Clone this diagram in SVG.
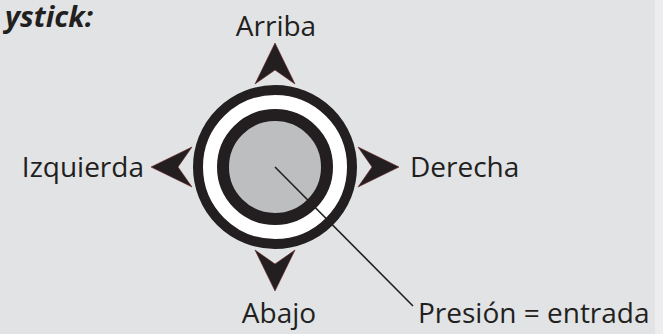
<svg xmlns="http://www.w3.org/2000/svg" width="663" height="334" viewBox="0 0 663 334">
  <style>
    .lbl { font-family: "Open Sans", "Noto Sans", "Liberation Sans", sans-serif; font-size: 28px; fill: #231f20; }
    .title { font-family: "Open Sans", "Noto Sans", "Liberation Sans", sans-serif; font-size: 29px; font-weight: 700; font-style: italic; fill: #231f20; }
    .head { fill: #231f20; stroke: #6b2024; stroke-width: 0.6; stroke-linejoin: miter; }
  </style>
  <defs>
    <path id="ah" d="M0,-124 L20,-83 L0,-97 L-20,-83 Z"/>
  </defs>
  <rect x="0" y="0" width="663" height="334" fill="#ebedee"/>
  <rect x="0" y="0" width="655" height="334" fill="#e1e3e5"/>

  <text class="title" x="5" y="27">ystick:</text>

  <g id="arrowheads" transform="translate(275,167)">
    <use href="#ah" class="head"/>
    <use href="#ah" class="head" transform="rotate(90)"/>
    <use href="#ah" class="head" transform="rotate(180)"/>
    <use href="#ah" class="head" transform="rotate(270)"/>
  </g>

  <g id="joystick">
    <circle cx="275" cy="167" r="77" fill="#ffffff" stroke="#231f20" stroke-width="10"/>
    <circle cx="275" cy="167" r="52" fill="#bcbec0" stroke="#231f20" stroke-width="12"/>
  </g>

  <g id="connectors">
    <line x1="275" y1="167" x2="413" y2="306" stroke="#231f20" stroke-width="1.6"/>
  </g>

  <g id="arriba"><text class="lbl" x="276" y="36" text-anchor="middle">Arriba</text></g>
  <g id="abajo"><text class="lbl" x="279" y="323" text-anchor="middle">Abajo</text></g>
  <g id="izquierda"><text class="lbl" x="144" y="177" text-anchor="end">Izquierda</text></g>
  <g id="derecha"><text class="lbl" x="410" y="177">Derecha</text></g>
  <g id="presion"><text class="lbl" x="418" y="323">Presión = entrada</text></g>
</svg>
